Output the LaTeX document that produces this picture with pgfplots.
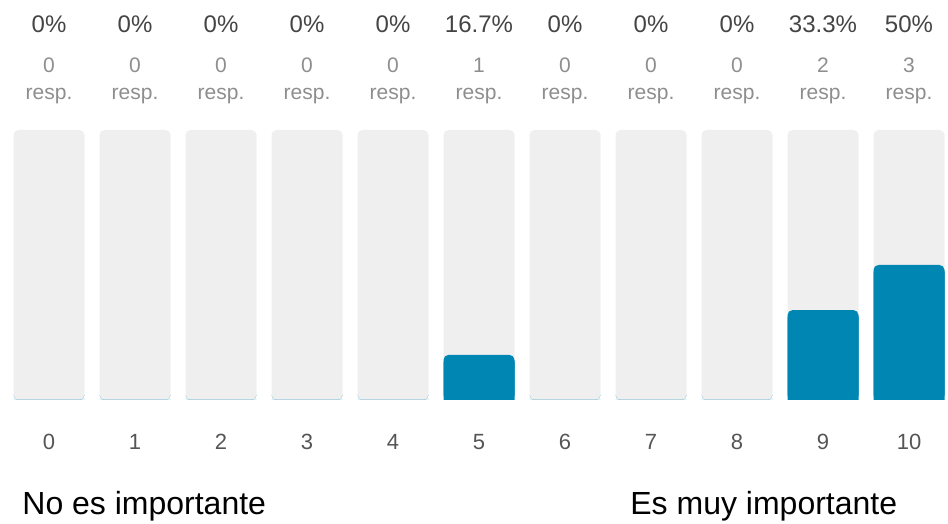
\documentclass[border=0pt]{standalone}
\usepackage{pgfplots}
\pgfplotsset{compat=1.18}
\usepackage{pgfplotstable}
\usepackage{fontspec}
\setmainfont{Liberation Sans}
\definecolor{barblue}{HTML}{0086B2}
\definecolor{bargrey}{HTML}{EFEFEF}
\definecolor{pcttext}{HTML}{444444}
\definecolor{cnttext}{HTML}{8E8E8E}
\definecolor{numtext}{HTML}{555555}

\pgfplotstableread{
x pct n full
0 0 0 100
1 0 0 100
2 0 0 100
3 0 0 100
4 0 0 100
5 16.7 1 100
6 0 0 100
7 0 0 100
8 0 0 100
9 33.3 2 100
10 50 3 100
}\datatable

\begin{document}
\begin{tikzpicture}
\useasboundingbox (0,0) rectangle (474pt,262pt);
\begin{axis}[
  x=43pt, y=1.35pt, anchor=origin, at={(24.5pt,62pt)},
  xmin=-0.5, xmax=10.5, ymin=0, ymax=100,
  hide axis, clip=false,
  bar width=35.5pt,
]
\addplot[ybar, fill=bargrey, draw=none, rounded corners=2.5pt] table[x=x,y=full]{\datatable};
\addplot[ybar, fill=barblue, draw=none, rounded corners=2.5pt] table[x=x,y=pct]{\datatable};
% percentage labels
\addplot[draw=none, mark=none, point meta=explicit symbolic,
  nodes near coords={\pgfplotspointmeta\%},
  every node near coord/.append style={anchor=base, yshift=48.5pt, inner sep=0pt,
    font=\fontsize{12}{14}\selectfont, text=pcttext}]
  table[x=x,y=full,meta=pct]{\datatable};
% counts
\addplot[draw=none, mark=none, point meta=explicit symbolic,
  nodes near coords={\pgfplotspointmeta},
  every node near coord/.append style={anchor=base, yshift=28.5pt, inner sep=0pt,
    font=\fontsize{10.5}{12}\selectfont, text=cnttext}]
  table[x=x,y=full,meta=n]{\datatable};
% resp.
\addplot[draw=none, mark=none, point meta=explicit symbolic,
  nodes near coords={resp.},
  every node near coord/.append style={anchor=base, yshift=15pt, inner sep=0pt,
    font=\fontsize{10.5}{12}\selectfont, text=cnttext}]
  table[x=x,y=full,meta=n]{\datatable};
% category numbers
\addplot[draw=none, mark=none, point meta=explicit symbolic,
  nodes near coords={\pgfplotspointmeta},
  every node near coord/.append style={anchor=base, yshift=-25pt, inner sep=0pt,
    font=\fontsize{11}{13}\selectfont, text=numtext}]
  table[x=x,y expr=0,meta=x]{\datatable};
\end{axis}
% overlay: square tops for the blue bars (clipped above the rounded bottom)
\begin{axis}[
  x=43pt, y=1.35pt, anchor=origin, at={(24.5pt,62pt)},
  xmin=-0.5, xmax=10.5, ymin=2.5, ymax=100,
  hide axis, clip=true,
  bar width=35.5pt,
]
\addplot[ybar, fill=barblue, draw=none] table[x=x,y=pct]{\datatable};
\end{axis}
\node[anchor=base west, inner sep=0pt, font=\fontsize{16}{19}\selectfont] at (11pt,4.5pt) {No es importante};
\node[anchor=base west, inner sep=0pt, font=\fontsize{16}{19}\selectfont] at (315pt,4.5pt) {Es muy importante};
\end{tikzpicture}
\end{document}
